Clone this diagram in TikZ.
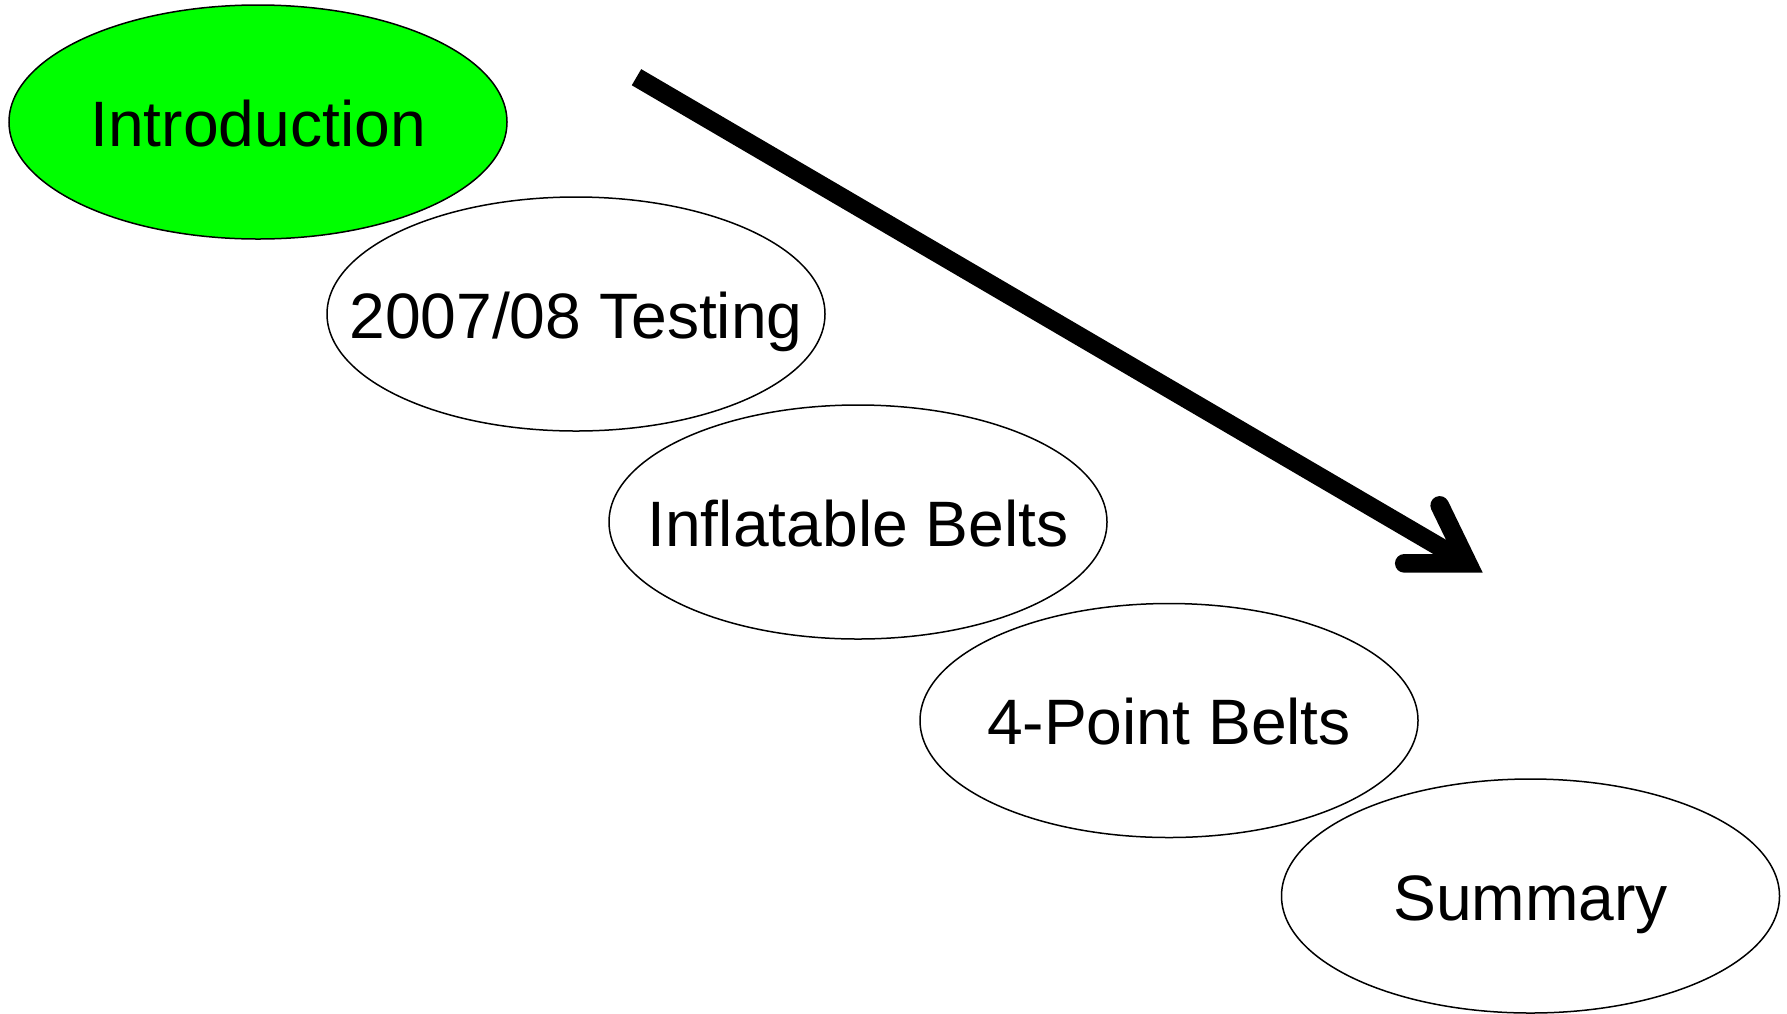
\documentclass[tikz,border=0pt]{standalone}
\usepackage{fontspec}
\setmainfont{Liberation Sans}
\usetikzlibrary{shapes.geometric}
\begin{document}
\begin{tikzpicture}[x=0.5pt,y=-0.5pt,
  oval/.style={ellipse,draw=black,line width=0.75pt,fill=white,
    minimum width=249pt,minimum height=117pt,inner sep=0pt},
  greenoval/.style={oval,fill={rgb,255:red,0;green,255;blue,0}},
  txt/.style={anchor=base,inner sep=0pt,font=\fontsize{32.1pt}{38.5pt}\selectfont,yshift=-12.1pt},
  shaft/.style={line width=9.35pt,line cap=butt},
  headstyle/.style={line width=9.35pt,line cap=round,line join=miter}]
\useasboundingbox (0,0) rectangle (1787,1013);
\node[greenoval] (e1) at (258,122) {};
\node[txt] (t1) at (e1.center) {Introduction};
\node[oval] (e2) at (576,314) {};
\node[txt] (t2) at (e2.center) {2007/08 Testing};
\node[oval] (e3) at (858,522) {};
\node[txt] (t3) at (e3.center) {Inflatable Belts};
\node[oval] (e4) at (1169,720.5) {};
\node[txt] (t4) at (e4.center) {4-Point Belts};
\node[oval] (e5) at (1530.5,896) {};
\node[txt] (t5) at (e5.center) {Summary};
\coordinate (as) at (636.5,77.2);
\coordinate (av) at (1467.8,563.35);
\coordinate (aw1) at (1404.3,563.35);
\coordinate (aw2) at (1439.7,505.4);
\draw[shaft] (as) -- (av);
\draw[headstyle] (aw1) -- (av) -- (aw2);
\end{tikzpicture}
\end{document}
